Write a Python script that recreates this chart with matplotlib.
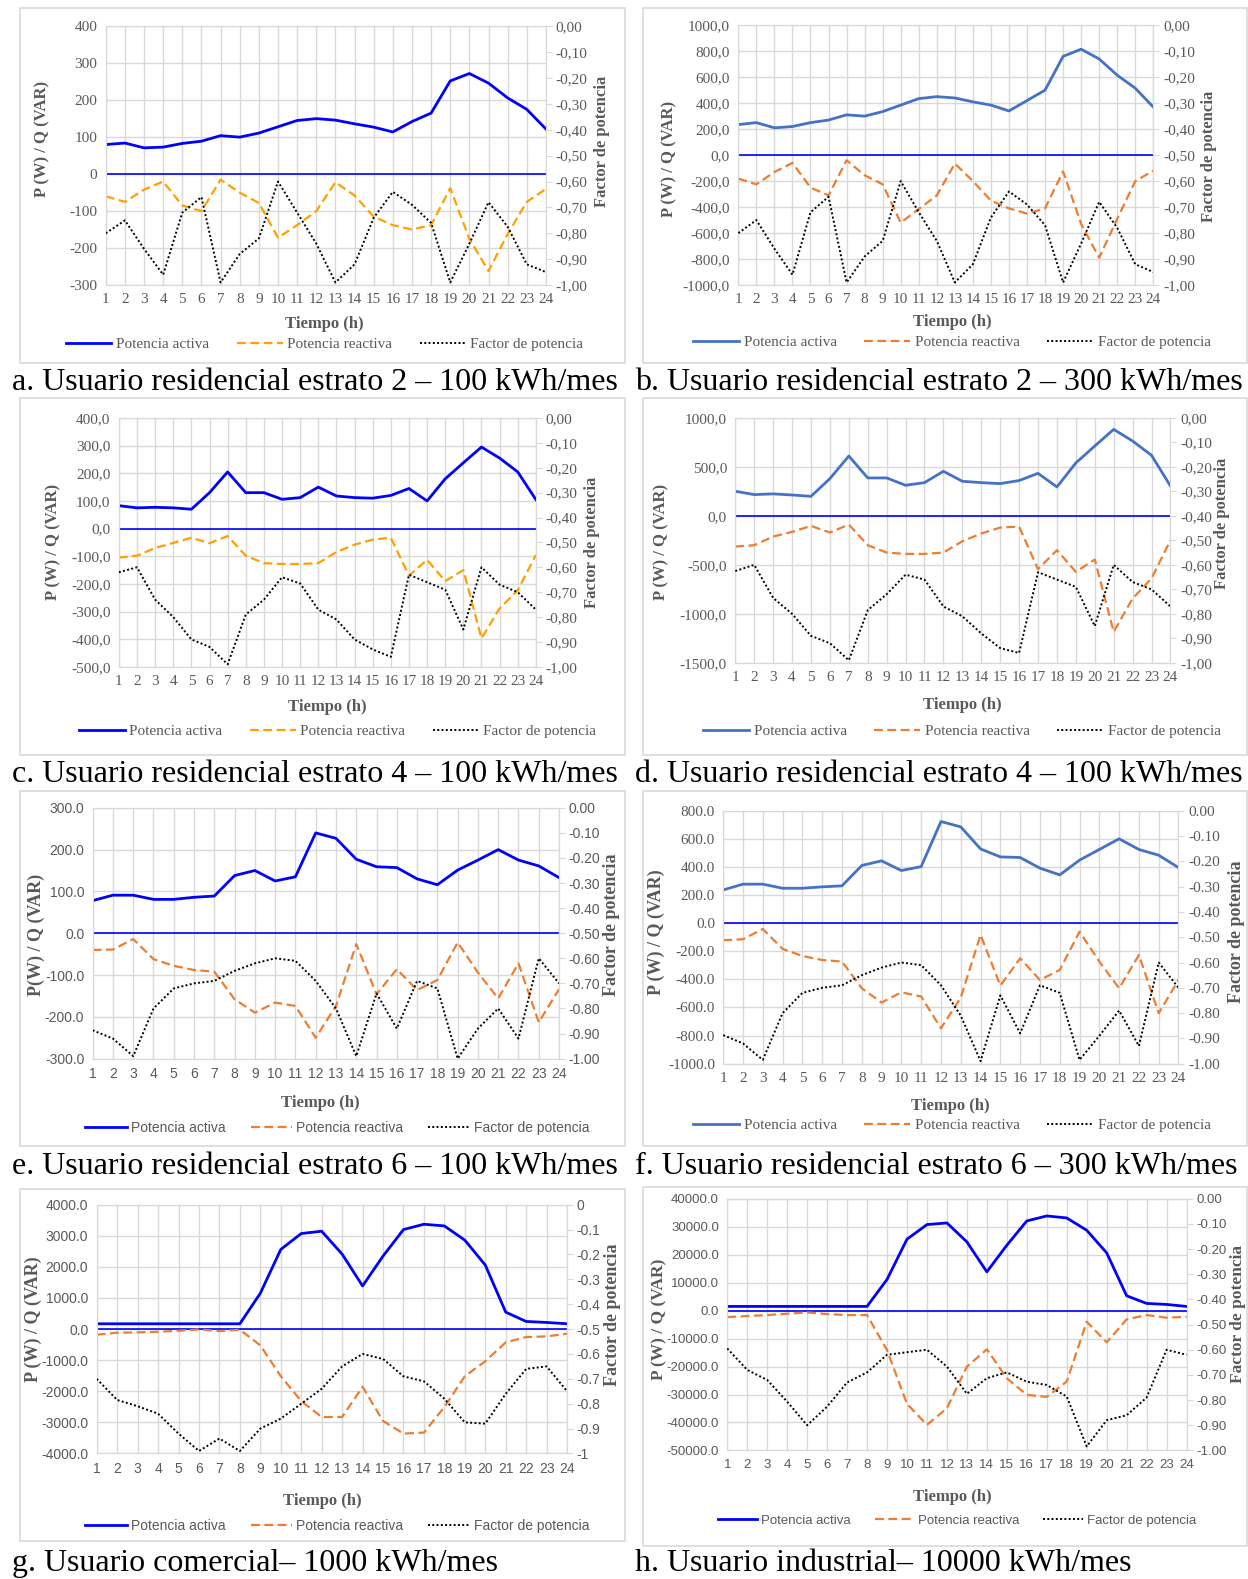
import matplotlib
matplotlib.use("Agg")
from matplotlib import pyplot as plt
from matplotlib.patches import Rectangle
from matplotlib.ticker import FuncFormatter

hours = list(range(1, 25))

# a. estrato 2 - 100 kWh/mes
a_p = [80, 84, 71, 73, 83, 89, 104, 100, 111, 128, 145, 150, 146, 136, 127, 114, 142, 165, 252, 272, 246, 206, 175, 122]
a_q = [-60, -75, -42, -20, -85, -100, -15, -50, -78, -172, -138, -100, -22, -58, -115, -138, -150, -138, -38, -175, -262, -162, -75, -40]
a_fp = [-0.80, -0.75, -0.86, -0.96, -0.72, -0.66, -0.99, -0.88, -0.82, -0.60, -0.72, -0.84, -0.99, -0.92, -0.74, -0.64, -0.69, -0.76, -0.99, -0.84, -0.68, -0.775, -0.92, -0.95]

# b. estrato 2 - 300 kWh/mes
b_p = [235, 250, 210, 220, 250, 270, 310, 300, 335, 385, 435, 450, 440, 410, 385, 340, 420, 500, 760, 815, 740, 615, 515, 370]
b_q = [-180, -225, -130, -60, -250, -310, -40, -155, -225, -520, -415, -310, -65, -200, -350, -410, -450, -410, -125, -530, -790, -490, -200, -120]
b_fp = [-0.80, -0.75, -0.86, -0.96, -0.72, -0.66, -0.99, -0.89, -0.83, -0.60, -0.72, -0.83, -0.99, -0.92, -0.74, -0.64, -0.69, -0.77, -0.99, -0.84, -0.68, -0.78, -0.92, -0.95]

# c. estrato 4 - 100 kWh/mes
c_p = [83, 75, 77, 75, 70, 130, 205, 130, 130, 106, 112, 150, 118, 112, 110, 120, 145, 100, 180, 238, 295, 255, 205, 105]
c_q = [-105, -98, -70, -52, -33, -53, -27, -98, -125, -128, -128, -125, -85, -58, -40, -33, -170, -113, -190, -150, -397, -289, -223, -96]
c_fp = [-0.62, -0.60, -0.73, -0.80, -0.89, -0.92, -0.99, -0.79, -0.73, -0.64, -0.665, -0.77, -0.81, -0.89, -0.93, -0.96, -0.63, -0.66, -0.69, -0.85, -0.60, -0.67, -0.70, -0.77]

# d. estrato 4 - 100 kWh/mes
d_p = [252, 218, 225, 214, 200, 381, 612, 388, 388, 313, 340, 456, 354, 340, 330, 361, 435, 296, 541, 714, 884, 765, 619, 306]
d_q = [-313, -299, -211, -163, -102, -170, -88, -299, -374, -388, -388, -374, -259, -180, -119, -109, -544, -350, -571, -446, -1184, -844, -639, -248]
d_fp = [-0.625, -0.60, -0.735, -0.80, -0.89, -0.92, -0.99, -0.785, -0.72, -0.64, -0.66, -0.77, -0.81, -0.88, -0.94, -0.96, -0.63, -0.66, -0.69, -0.85, -0.60, -0.67, -0.70, -0.77]

# e. estrato 6 - 100 kWh/mes
e_p = [78, 91, 91, 81, 81, 86, 89, 138, 150, 125, 135, 240, 227, 177, 159, 157, 130, 116, 151, 175, 200, 175, 161, 133]
e_q = [-40, -39, -14, -62, -78, -88, -92, -158, -190, -166, -174, -250, -174, -26, -146, -86, -136, -112, -22, -94, -156, -72, -213, -134]
e_fp = [-0.887, -0.92, -0.99, -0.80, -0.72, -0.70, -0.69, -0.65, -0.62, -0.60, -0.61, -0.69, -0.80, -0.99, -0.74, -0.88, -0.69, -0.72, -1.00, -0.88, -0.80, -0.92, -0.60, -0.70]

# f. estrato 6 - 300 kWh/mes
f_p = [237, 278, 278, 249, 249, 259, 266, 411, 444, 375, 403, 724, 686, 529, 472, 468, 392, 344, 449, 525, 601, 525, 484, 396]
f_q = [-121, -114, -41, -183, -233, -262, -273, -463, -565, -492, -522, -748, -530, -83, -444, -250, -404, -333, -60, -273, -463, -226, -641, -404]
f_fp = [-0.887, -0.92, -0.985, -0.80, -0.72, -0.70, -0.69, -0.65, -0.62, -0.60, -0.61, -0.69, -0.81, -0.99, -0.73, -0.88, -0.69, -0.72, -0.985, -0.89, -0.79, -0.93, -0.60, -0.70]

# g. comercial - 1000 kWh/mes
g_p = [170, 170, 170, 170, 170, 170, 170, 170, 1152, 2560, 3072, 3147, 2411, 1387, 2347, 3200, 3371, 3317, 2859, 2059, 544, 245, 213, 171]
g_q = [-181, -117, -107, -85, -53, -11, -64, -21, -523, -1515, -2315, -2827, -2827, -1856, -2955, -3360, -3328, -2507, -1515, -1035, -427, -256, -235, -149]
g_fp = [-0.70, -0.785, -0.81, -0.84, -0.92, -0.99, -0.94, -0.99, -0.90, -0.86, -0.80, -0.74, -0.65, -0.60, -0.62, -0.69, -0.71, -0.78, -0.875, -0.88, -0.76, -0.66, -0.65, -0.75]

# h. industrial - 10000 kWh/mes
h_p = [1480, 1480, 1480, 1480, 1480, 1480, 1480, 1480, 11110, 25500, 30730, 31320, 24540, 13840, 23350, 32030, 33820, 33100, 28700, 20620, 5280, 2550, 2190, 1480]
h_q = [-2325, -1970, -1610, -1140, -660, -1260, -1610, -1610, -14100, -33350, -40840, -34900, -20030, -13850, -24190, -30130, -30850, -25380, -3980, -11350, -3150, -1610, -2560, -2200]
h_fp = [-0.595, -0.68, -0.72, -0.806, -0.90, -0.826, -0.73, -0.69, -0.62, -0.61, -0.60, -0.667, -0.775, -0.713, -0.69, -0.727, -0.74, -0.786, -0.984, -0.88, -0.86, -0.79, -0.60, -0.62]

captions = [
    "a. Usuario residencial estrato 2 \u2013 100 kWh/mes",
    "b. Usuario residencial estrato 2 \u2013 300 kWh/mes",
    "c. Usuario residencial estrato 4 \u2013 100 kWh/mes",
    "d. Usuario residencial estrato 4 \u2013 100 kWh/mes",
    "e. Usuario residencial estrato 6 \u2013 100 kWh/mes",
    "f. Usuario residencial estrato 6 \u2013 300 kWh/mes",
    "g. Usuario comercial\u2013 1000 kWh/mes",
    "h. Usuario industrial\u2013 10000 kWh/mes",
]
series = ["Potencia activa", "Potencia reactiva", "Factor de potencia"]

W, H = 1248, 1579
S = 1248 / 1239  # shown -> full
fig = plt.figure(figsize=(W / 100, H / 100), dpi=100)
fig.patch.set_facecolor("white")

SERIF = ["Liberation Serif", "DejaVu Serif"]
SANS = ["Liberation Sans Narrow", "Liberation Sans", "DejaVu Sans"]
GRAY = "#595959"
GRID = "#D9D9D9"

PURE_BLUE = "#0000FF"
XL_BLUE = "#4472C4"
AMBER = "#FFA000"
XL_ORANGE = "#ED7D31"


def fx(x):
    return x * S / W


def fy(y):
    return 1 - y * S / H


def comma(fmt):
    return FuncFormatter(lambda v, pos: fmt.format(v).replace(".", ","))


def dot(fmt):
    return FuncFormatter(lambda v, pos: fmt.format(v))


def general(v, pos):
    if abs(v) < 1e-9:
        return "0"
    s = "{:.1f}".format(v)
    return s[:-2] if s.endswith(".0") else s


panels = [
    dict(d=(a_p, a_q, a_fp), box=(20, 8, 620, 360), plot=(105, 542, 26, 283), ylim=(-300, 400), step=100,
         lf=dot("{:.0f}"), rf=comma("{:.2f}"), col=(PURE_BLUE, AMBER), tf=SERIF, ts=11, ls=12,
         yl=(42, 138), yr=(598, 140), xl=(322, 322), lg=(322, 342), ylab="P (W) / Q (VAR)"),
    dict(d=(b_p, b_q, b_fp), box=(638, 8, 1238, 360), plot=(733, 1145, 25, 283), ylim=(-1000, 1000), step=200,
         lf=comma("{:.1f}"), rf=comma("{:.2f}"), col=(XL_BLUE, XL_ORANGE), tf=SERIF, ts=11, ls=12,
         yl=(665, 158), yr=(1200, 155), xl=(945, 320), lg=(945, 340), ylab="P (W) / Q (VAR)"),
    dict(d=(c_p, c_q, c_fp), box=(20, 395, 620, 750), plot=(118, 532, 415, 662), ylim=(-500, 400), step=100,
         lf=comma("{:.1f}"), rf=comma("{:.2f}"), col=(PURE_BLUE, AMBER), tf=SERIF, ts=11, ls=12,
         yl=(53, 538), yr=(588, 538), xl=(325, 702), lg=(335, 726), ylab="P (W) / Q (VAR)"),
    dict(d=(d_p, d_q, d_fp), box=(638, 395, 1238, 750), plot=(730, 1162, 415, 658), ylim=(-1500, 1000), step=500,
         lf=comma("{:.1f}"), rf=comma("{:.2f}"), col=(XL_BLUE, XL_ORANGE), tf=SERIF, ts=11, ls=12,
         yl=(657, 538), yr=(1213, 520), xl=(955, 700), lg=(955, 726), ylab="P (W) / Q (VAR)"),
    dict(d=(e_p, e_q, e_fp), box=(20, 785, 620, 1138), plot=(92, 555, 802, 1051), ylim=(-300, 300), step=100,
         lf=dot("{:.1f}"), rf=dot("{:.2f}"), col=(PURE_BLUE, XL_ORANGE), tf=SANS, ts=10, ls=13,
         yl=(36, 928), yr=(607, 918), xl=(318, 1095), lg=(335, 1120), ylab="P(W) / Q (VAR)"),
    dict(d=(f_p, f_q, f_fp), box=(638, 785, 1238, 1138), plot=(718, 1170, 805, 1056), ylim=(-1000, 800), step=200,
         lf=dot("{:.1f}"), rf=dot("{:.2f}"), col=(XL_BLUE, XL_ORANGE), tf=SERIF, ts=11, ls=13,
         yl=(652, 925), yr=(1228, 925), xl=(943, 1098), lg=(945, 1117), ylab="P (W) / Q (VAR)"),
    dict(d=(g_p, g_q, g_fp), box=(20, 1180, 620, 1530), plot=(96, 563, 1196, 1443), ylim=(-4000, 4000), step=1000,
         lf=dot("{:.1f}"), rf=FuncFormatter(general), col=(PURE_BLUE, XL_ORANGE), tf=SANS, ts=10, ls=13,
         yl=(33, 1310), yr=(608, 1305), xl=(320, 1490), lg=(335, 1515), ylab="P (W) / Q (VAR)"),
    dict(d=(h_p, h_q, h_fp), box=(638, 1178, 1238, 1535), plot=(722, 1178, 1190, 1440), ylim=(-50000, 40000), step=10000,
         lf=dot("{:.1f}"), rf=dot("{:.2f}"), col=(PURE_BLUE, XL_ORANGE), tf=SANS, ts=9.5, ls=12.5,
         yl=(655, 1310), yr=(1229, 1305), xl=(945, 1486), lg=(950, 1510), ylab="P (W) / Q (VAR)"),
]

for i, pn in enumerate(panels):
    bx0, by0, bx1, by1 = pn["box"]
    fig.patches.append(Rectangle((fx(bx0), fy(by1)), fx(bx1) - fx(bx0), fy(by0) - fy(by1),
                                 transform=fig.transFigure, fill=False, edgecolor=GRID, lw=1.2))

    l, r, t, b = pn["plot"]
    ax = fig.add_axes([fx(l), fy(b), fx(r) - fx(l), fy(t) - fy(b)])
    p, q, fp = pn["d"]
    cp, cq = pn["col"]
    ts = pn["ts"]

    lo, hi = pn["ylim"]
    ax.set_xlim(1, 24)
    ax.set_ylim(lo, hi)
    ax.set_xticks(hours)
    ax.set_yticks(range(lo, hi + 1, pn["step"]))
    ax.yaxis.set_major_formatter(pn["lf"])
    ax.grid(True, color=GRID, lw=1.0)
    ax.set_axisbelow(True)
    for sp in ax.spines.values():
        sp.set_color(GRID)
    ax.tick_params(length=0, colors=GRAY, labelsize=ts, pad=6)
    for lab in ax.get_xticklabels() + ax.get_yticklabels():
        lab.set_family(pn["tf"])

    ax.axhline(0, color=PURE_BLUE, lw=1.2, zorder=2)
    h1, = ax.plot(hours, p, color=cp, lw=2.0, zorder=4)
    h2, = ax.plot(hours, q, color=cq, lw=1.6, ls=(0, (4, 2)), zorder=4)

    ax2 = ax.twinx()
    ax2.set_ylim(-1, 0)
    ax2.set_yticks([-k / 10 for k in range(11)])
    ax2.yaxis.set_major_formatter(pn["rf"])
    for sp in ax2.spines.values():
        sp.set_color(GRID)
    ax2.tick_params(axis="y", length=4, colors=GRAY, labelsize=ts, pad=3)
    ax2.tick_params(axis="y", color=GRID)
    for lab in ax2.get_yticklabels():
        lab.set_family(pn["tf"])
    h3, = ax2.plot(hours, fp, color="black", lw=1.4, ls=(0, (1, 1.2)), zorder=4)

    fig.text(fx(pn["yl"][0]), fy(pn["yl"][1]), pn["ylab"], rotation=90, ha="center", va="center",
             fontsize=pn["ls"], fontweight="bold", color=GRAY, family=SERIF)
    fig.text(fx(pn["yr"][0]), fy(pn["yr"][1]), "Factor de potencia", rotation=90, ha="center", va="center",
             fontsize=pn["ls"], fontweight="bold", color=GRAY, family=SERIF)
    fig.text(fx(pn["xl"][0]), fy(pn["xl"][1]), "Tiempo (h)", ha="center", va="center",
             fontsize=12, fontweight="bold", color=GRAY, family=SERIF)

    fig.legend([h1, h2, h3], series, loc="center", bbox_to_anchor=(fx(pn["lg"][0]), fy(pn["lg"][1])),
               ncol=3, frameon=False, handlelength=3.0, columnspacing=1.8, handletextpad=0.3,
               prop=dict(family=pn["tf"], size=ts), labelcolor=GRAY)

    cx = 12 if i % 2 == 0 else 630
    cy = [380, 380, 769, 769, 1158, 1158, 1552, 1552][i]
    fig.text(fx(cx), fy(cy), captions[i], ha="left", va="center", fontsize=23,
             family=SERIF, color="black")

fig.savefig("out.png", dpi=100, facecolor="white")
